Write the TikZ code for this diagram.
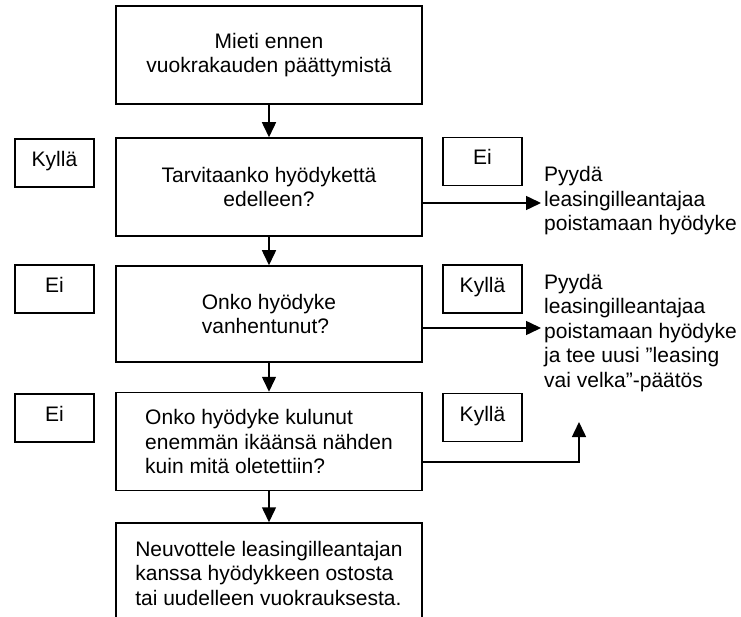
\documentclass[tikz,border=0pt]{standalone}
\usepackage{fontspec}
\setmainfont{Liberation Sans}
\usetikzlibrary{arrows.meta}

\tikzset{
  >={Triangle[length=15pt,width=14pt]},   % 全局箭头样式
  txt/.style={font=\fontsize{21}{24.5}\selectfont},
  box/.style={txt, draw, line width=1.5pt, minimum width=306pt, inner sep=0pt},
  tag/.style={txt, draw, line width=1.5pt, minimum width=79pt, minimum height=48pt,
    inner sep=0pt, text height=15pt, text depth=8pt},
  note/.style={txt, anchor=west, inner sep=0pt, align=left},
  flow/.style={->, line width=1.5pt}
}

\begin{document}
\begin{tikzpicture}[x=1pt,y=-1pt]
\useasboundingbox (0,0) rectangle (741,617);

% 主流程框
\node[box, minimum height=98pt, align=center] (start) at (269,55)
    {Mieti ennen\\vuokrakauden päättymistä};
\node[box, minimum height=98pt, align=center] (need) at (269,187)
    {Tarvitaanko hyödykettä\\edelleen?};
\node[box, minimum height=96pt, align=left] (old) at (269,314)
    {Onko hyödyke\\vanhentunut?};
\node[box, minimum height=98pt, align=left] (worn) at (269,441.5)
    {Onko hyödyke kulunut\\enemmän ikäänsä nähden\\kuin mitä oletettiin?};
\node[box, minimum height=100pt, align=left] (deal) at (269,573)
    {Neuvottele leasingilleantajan\\kanssa hyödykkeen ostosta\\tai uudelleen vuokrauksesta.};

% 判断标签
\node[tag] (yes1) at (54.5,163)   {Kyllä};
\node[tag] (no1)  at (482.5,161.5) {Ei};
\node[tag] (no2)  at (54.5,289)   {Ei};
\node[tag] (yes2) at (482.5,289)  {Kyllä};
\node[tag] (no3)  at (54.5,418)   {Ei};
\node[tag] (yes3) at (482.5,417.5) {Kyllä};

% 结果说明
\node[note] (ask1) at (544,201)
    {Pyydä\\leasingilleantajaa\\poistamaan hyödyke};
\node[note] (ask2) at (544,333)
    {Pyydä\\leasingilleantajaa\\poistamaan hyödyke\\ja tee uusi ”leasing\\vai velka”-päätös};

% 向下的箭头
\draw[flow] (start) -- (need);
\draw[flow] (need) -- (old);
\draw[flow] (old) -- (worn);
\draw[flow] (worn) -- (deal);

% 向右的箭头
\coordinate (tip1) at (541,203);
\draw[flow] (need.east |- tip1) -- (tip1);
\coordinate (tip2) at (541,328);
\draw[flow] (old.east |- tip2) -- (tip2);
\coordinate (bend) at (579,462);
\coordinate (tip3) at (579,422);
\draw[flow] (worn.east |- bend) -- (bend) -- (tip3);

\end{tikzpicture}
\end{document}
